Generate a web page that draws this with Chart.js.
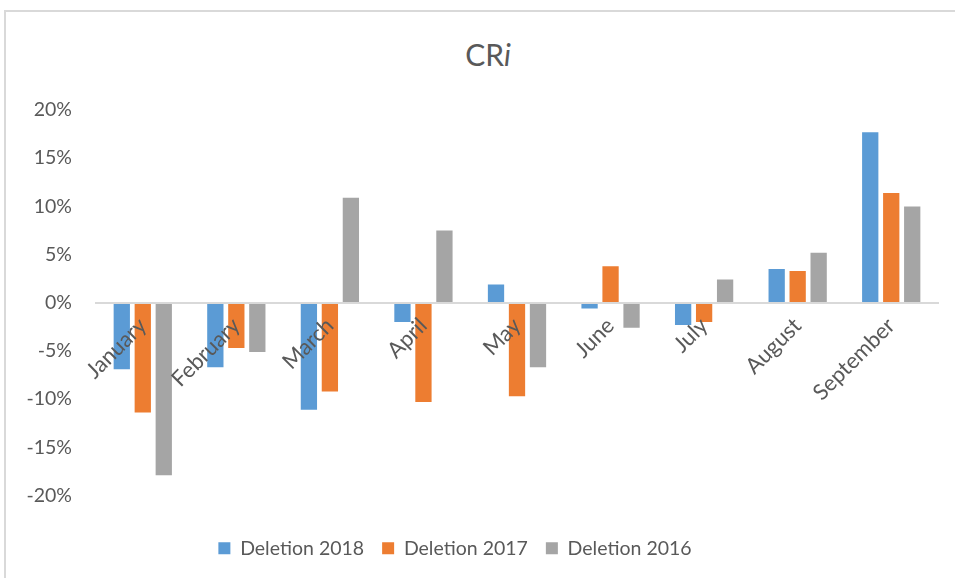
<!DOCTYPE html>
<html>
<head>
<meta charset="utf-8">
<script src="https://cdn.jsdelivr.net/npm/chart.js@4/dist/chart.umd.min.js"></script>
<style>
    html, body { margin: 0; padding: 0; background: #fff; overflow: hidden; }
    .frame { position: absolute; left: 4px; top: 10px; width: 1000px; height: 1000px; border: 2px solid #d9d9d9; box-sizing: border-box; }
    .title { position: absolute; left: 0; width: 976px; top: 39px; text-align: center; font: 30px/30px Lato, sans-serif; color: #595959; }
    .wrap { position: absolute; left: 0; top: 0; width: 955px; height: 578px; }
</style>
</head>
<body>
<div class="frame"></div>
<div class="title">CR<i>i</i></div>
<div class="wrap"><canvas id="chart"></canvas></div>
<script>
// --- data (percent) ---
const months = ['January', 'February', 'March', 'April', 'May', 'June', 'July', 'August', 'September'];
const deletion2018 = [-6.9, -6.7, -11.1, -2.0, 1.9, -0.6, -2.3, 3.5, 17.7];
const deletion2017 = [-11.4, -4.7, -9.2, -10.3, -9.7, 3.8, -2.0, 3.3, 11.4];
const deletion2016 = [-17.9, -5.1, 10.9, 7.5, -6.7, -2.6, 2.4, 5.2, 10.0];
const yTicks = [-20, -15, -10, -5, 0, 5, 10, 15, 20];

const textColor = '#595959';
const font = 'Lato, sans-serif';

// legend sits a bit left of / below where chart.js puts it
const legendShift = {
    id: 'legendShift',
    afterUpdate(chart) {
        const lg = chart.legend;
        if (!lg) return;
        const dx = 455 - (lg.left + lg.right) / 2;
        const dy = 548 - (lg.top + lg.options.labels.padding + 9.5);
        lg.left += dx; lg.right += dx;
        lg.top += dy; lg.bottom += dy;
        lg.adjustHitBoxes();
    }
};

new Chart(document.getElementById('chart'), {
    type: 'bar',
    data: {
        labels: months,
        datasets: [
            { label: 'Deletion 2018', data: deletion2018, backgroundColor: '#5b9bd5' },
            { label: 'Deletion 2017', data: deletion2017, backgroundColor: '#ed7d31' },
            { label: 'Deletion 2016', data: deletion2016, backgroundColor: '#a5a5a5' }
        ]
    },
    options: {
        responsive: true,
        maintainAspectRatio: false,
        animation: false,
        categoryPercentage: 0.673,
        barPercentage: 0.776,
        layout: { padding: { left: 16, right: 17, top: 110, bottom: 35 } },
        scales: {
            x: {
                position: { y: 0 },
                grid: { display: false, drawTicks: false },
                border: { display: true, color: '#d9d9d9', width: 2, z: 1 },
                ticks: {
                    z: 1,
                    color: textColor,
                    font: { family: font, size: 22 },
                    minRotation: 45,
                    maxRotation: 45,
                    autoSkip: false,
                    padding: 10
                }
            },
            y: {
                min: -20,
                max: 20,
                afterFit: s => { s.width = 80; },
                afterBuildTicks: s => { s.ticks = yTicks.map(v => ({ value: v })); },
                grid: { display: false, drawTicks: false },
                border: { display: false },
                ticks: {
                    color: textColor,
                    font: { family: font, size: 19.5 },
                    padding: 24,
                    callback: v => v + '%'
                }
            }
        },
        plugins: {
            title: { display: false },
            tooltip: { enabled: false },
            legend: {
                position: 'bottom',
                labels: {
                    color: textColor,
                    font: { family: font, size: 19.5 },
                    boxWidth: 12,
                    boxHeight: 12,
                    padding: 18
                }
            }
        }
    },
    plugins: [legendShift]
});
</script>
</body>
</html>
